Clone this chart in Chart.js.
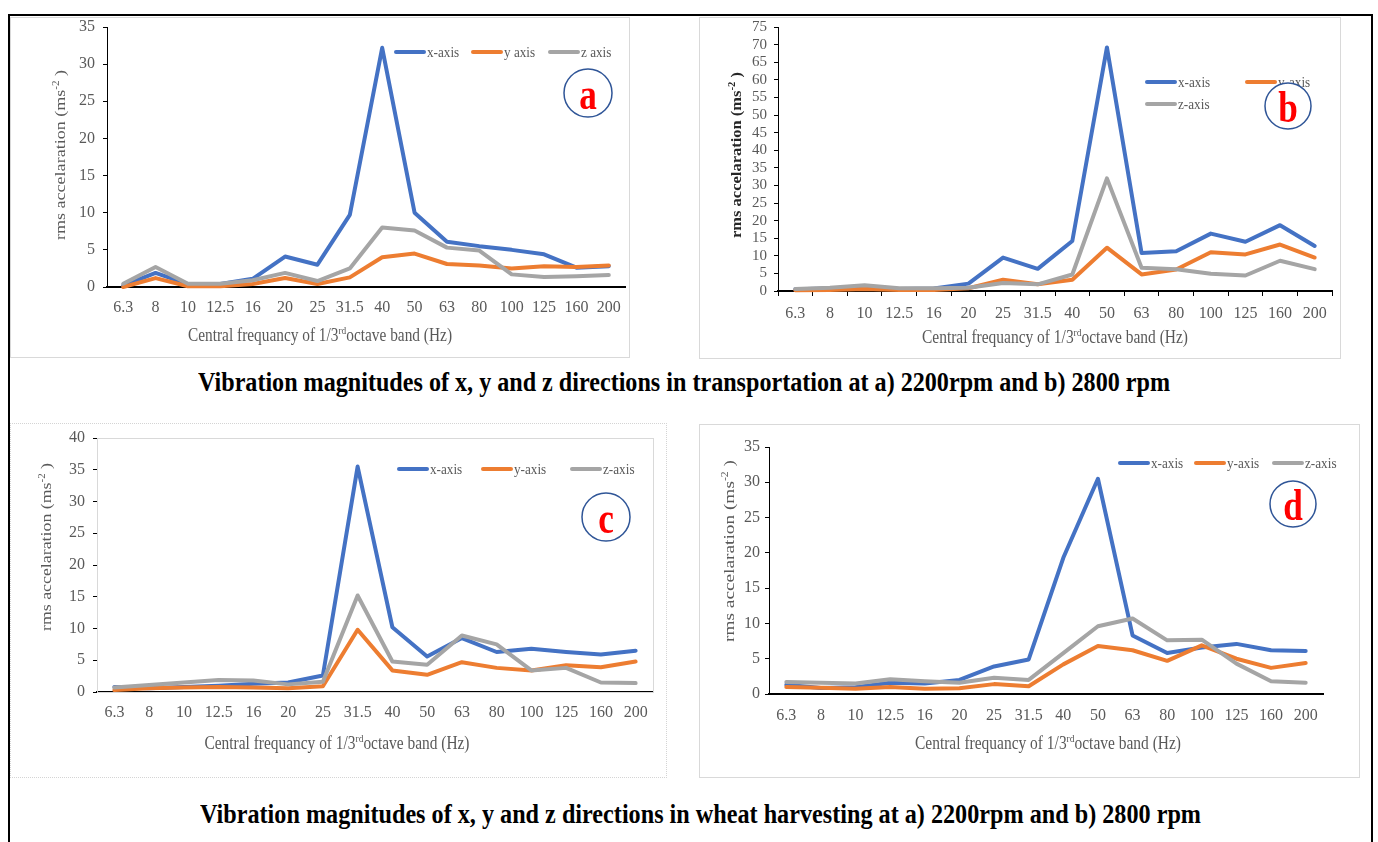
<!DOCTYPE html>
<html>
<head>
<meta charset="utf-8">
<script src="https://cdn.jsdelivr.net/npm/chart.js@4.4.1/dist/chart.umd.min.js"></script>
<style>
html,body{margin:0;padding:0;background:#fff;}
body{width:1378px;height:842px;overflow:hidden;position:relative;}
.frame{position:absolute;left:8px;top:14px;width:1365px;height:860px;border:2px solid #000;box-sizing:border-box;}
.box{position:absolute;box-sizing:border-box;border:1px solid #d9d9d9;}
.wrap{position:absolute;}
.cap{position:absolute;font-family:"Liberation Serif",serif;font-weight:bold;font-size:27px;line-height:1;white-space:nowrap;transform-origin:0 50%;color:#000;}
</style>
</head>
<body>
<div class="frame"></div>
<div class="box" style="left:10px;top:17px;width:620px;height:341px;"></div>
<div class="box" style="left:699px;top:17px;width:642px;height:342px;"></div>
<div class="box" style="left:10px;top:423px;width:657px;height:355px;border-style:dotted;border-color:#d4d4d4;"></div>
<div class="box" style="left:699px;top:424px;width:661px;height:354px;"></div>

<div class="wrap" style="left:10px;top:7px;"><canvas id="cA" width="630" height="350"></canvas></div>
<div class="wrap" style="left:699px;top:7px;"><canvas id="cB" width="642" height="350"></canvas></div>
<div class="wrap" style="left:10px;top:413px;"><canvas id="cC" width="657" height="365"></canvas></div>
<div class="wrap" style="left:699px;top:424px;"><canvas id="cD" width="661" height="354"></canvas></div>

<div class="cap" id="cap1" data-w="972" style="left:198px;top:369px;">Vibration magnitudes of x, y and z directions in transportation at a) 2200rpm and b) 2800 rpm</div>
<div class="cap" id="cap2" data-w="1001" style="left:200px;top:801px;">Vibration magnitudes of x, y and z directions in wheat harvesting at a) 2200rpm and b) 2800 rpm</div>

<script>
// ---------- DATA ----------
const categories = ['6.3','8','10','12.5','16','20','25','31.5','40','50','63','80','100','125','160','200'];

// (a) transportation 2200 rpm
const aX = [0.2, 1.9, 0.4, 0.4, 1.1, 4.1, 3.0, 9.7, 32.2, 10.0, 6.1, 5.5, 5.0, 4.4, 2.6, 2.8];
const aY = [0.0, 1.2, 0.1, 0.1, 0.4, 1.2, 0.4, 1.3, 4.0, 4.5, 3.1, 2.9, 2.5, 2.8, 2.7, 2.9];
const aZ = [0.45, 2.7, 0.45, 0.45, 0.9, 1.9, 0.8, 2.5, 8.0, 7.6, 5.3, 4.9, 1.7, 1.35, 1.45, 1.6];

// (b) transportation 2800 rpm
const bX = [0.5, 0.7, 1.0, 0.6, 0.7, 2.1, 9.5, 6.3, 14.2, 69.2, 10.8, 11.3, 16.3, 14.0, 18.7, 12.8];
const bY = [0.2, 0.3, 0.6, 0.3, 0.3, 0.8, 3.2, 1.9, 3.2, 12.3, 4.7, 6.1, 11.0, 10.4, 13.2, 9.5];
const bZ = [0.6, 0.9, 1.6, 0.8, 0.8, 0.9, 2.3, 1.9, 4.7, 32.0, 6.6, 6.2, 4.9, 4.4, 8.6, 6.2];

// (c) wheat harvesting 2200 rpm
const cX = [0.8, 0.6, 0.8, 1.0, 1.3, 1.5, 2.6, 35.5, 10.2, 5.6, 8.5, 6.3, 6.8, 6.3, 5.9, 6.5];
const cY = [0.3, 0.6, 0.7, 0.8, 0.7, 0.6, 0.9, 9.8, 3.4, 2.7, 4.7, 3.8, 3.4, 4.2, 3.9, 4.8];
const cZ = [0.7, 1.1, 1.5, 1.9, 1.8, 1.2, 1.6, 15.2, 4.8, 4.3, 8.9, 7.5, 3.4, 3.8, 1.5, 1.4];

// (d) wheat harvesting 2800 rpm
const dX = [1.3, 0.85, 0.95, 1.6, 1.5, 2.0, 3.9, 4.9, 19.3, 30.5, 8.3, 5.8, 6.6, 7.1, 6.2, 6.1];
const dY = [1.0, 0.9, 0.75, 1.0, 0.75, 0.8, 1.4, 1.1, 4.2, 6.8, 6.2, 4.7, 6.9, 5.0, 3.7, 4.4];
const dZ = [1.7, 1.6, 1.5, 2.1, 1.8, 1.6, 2.3, 2.0, 5.8, 9.6, 10.7, 7.6, 7.7, 4.3, 1.8, 1.6];

const labelsHyphen = ['x-axis', 'y-axis', 'z-axis'];
const labelsA = ['x-axis', 'y axis', 'z axis'];
const yMaxA = 35, yMaxB = 75, yMaxC = 40, yMaxD = 35;
const yStep = 5;
const panelLetters = ['a', 'b', 'c', 'd'];

const yTitleParts = [['rms accelaration (ms', false], ['-2', true], [' )', false]];
const xTitleParts = [['Central frequancy of 1/3', false], ['rd', true], ['octave band (Hz)', false]];

// ---------- STYLE ----------
const COLORS = ['#4472C4', '#ED7D31', '#A5A5A5'];
const FAMILY = '"Liberation Serif", "Times New Roman", serif';
const GREY = '#595959';

function richWidth(ctx, parts, size, weight) {
  let w = 0;
  for (const [t, sup] of parts) {
    ctx.font = `${weight} ${sup ? Math.round(size * 0.62) : size}px ${FAMILY}`;
    w += ctx.measureText(t).width;
  }
  return w;
}
function drawRich(ctx, parts, o) {
  const weight = o.weight || 'normal';
  const w = richWidth(ctx, parts, o.size, weight);
  ctx.save();
  ctx.translate(o.x, o.y);
  if (o.vertical) ctx.rotate(-Math.PI / 2);
  const along = o.len ? o.len / w : 1;
  ctx.scale(along, o.cross || 1);
  ctx.fillStyle = o.color;
  ctx.textAlign = 'left';
  ctx.textBaseline = 'alphabetic';
  let x = -w / 2;
  const base = o.size * 0.33;
  for (const [t, sup] of parts) {
    const s = sup ? Math.round(o.size * 0.62) : o.size;
    ctx.font = `${weight} ${s}px ${FAMILY}`;
    ctx.fillText(t, x, base + (sup ? -o.size * 0.38 : 0));
    x += ctx.measureText(t).width;
  }
  ctx.restore();
}

const decor = {
  id: 'decor',
  beforeDatasetsDraw(chart, args, o) {
    if (o.frame) {
      const ca = chart.chartArea, ctx = chart.ctx;
      ctx.save();
      ctx.strokeStyle = o.frame;
      ctx.lineWidth = 1;
      ctx.strokeRect(ca.left + 0.5, ca.top + 0.5, ca.right - ca.left, ca.bottom - ca.top);
      ctx.restore();
    }
  },
  afterDraw(chart, args, o) {
    const ctx = chart.ctx;
    if (o.yTitle) drawRich(ctx, yTitleParts, Object.assign({vertical: true, cross: 0.85, color: GREY, size: 18}, o.yTitle));
    if (o.xTitle) drawRich(ctx, xTitleParts, Object.assign({color: GREY, size: 18}, o.xTitle));
    if (o.legend) {
      chart.data.datasets.forEach((ds, i) => {
        const p = o.legend[i];
        ctx.save();
        ctx.strokeStyle = ds.borderColor;
        ctx.lineWidth = 4;
        ctx.lineCap = 'round';
        ctx.beginPath();
        ctx.moveTo(p[0] + 2, p[1]);
        ctx.lineTo(p[0] + 30, p[1]);
        ctx.stroke();
        ctx.translate(p[0] + 33, p[1]);
        ctx.scale(0.88, 1);
        ctx.font = `15px ${FAMILY}`;
        ctx.fillStyle = GREY;
        ctx.textBaseline = 'middle';
        ctx.fillText(ds.label, 0, 1);
        ctx.restore();
      });
    }
    if (o.badge) {
      const b = o.badge;
      ctx.save();
      ctx.beginPath();
      ctx.arc(b.x, b.y, b.r, 0, Math.PI * 2);
      ctx.fillStyle = '#fff';
      ctx.fill();
      ctx.strokeStyle = '#2F5597';
      ctx.lineWidth = 1.5;
      ctx.stroke();
      ctx.translate(b.x, b.y + 16);
      ctx.scale(0.8, 1);
      ctx.font = `bold 44px ${FAMILY}`;
      ctx.fillStyle = '#FF0000';
      ctx.textAlign = 'center';
      ctx.textBaseline = 'alphabetic';
      ctx.fillText(b.letter, 0, 0);
      ctx.restore();
    }
  }
};

function makeChart(id, series, labels, cfg) {
  const orders = [3, 2, 1];
  const datasets = series.map((d, i) => ({
    label: labels[i], data: d, borderColor: COLORS[i], backgroundColor: COLORS[i],
    borderWidth: 4, pointRadius: 0, tension: 0, fill: false, clip: false,
    borderJoinStyle: 'round', borderCapStyle: 'round', order: orders[i]
  }));
  return new Chart(document.getElementById(id), {
    type: 'line',
    data: {labels: categories, datasets},
    options: {
      responsive: false, animation: false, events: [],
      layout: {padding: {left: 0, top: cfg.top, right: cfg.right, bottom: 0}},
      plugins: {
        legend: {display: false}, tooltip: {enabled: false},
        decor: cfg.decor
      },
      scales: {
        x: {
          offset: true,
          grid: cfg.xTicks ? {display: true, offset: true, drawOnChartArea: false, drawTicks: true, tickLength: 5, color: '#000', lineWidth: 1}
                           : {display: false, drawTicks: false, tickLength: 0},
          border: {display: true, color: '#000', width: 2},
          ticks: {autoSkip: false, maxRotation: 0, minRotation: 0, padding: cfg.xPad, color: GREY, font: {family: FAMILY, size: 16}},
          afterFit: s => { s.height = cfg.xH; }
        },
        y: {
          min: 0, max: cfg.yMax,
          grid: {display: true, drawOnChartArea: false, drawTicks: true, tickLength: 4, color: '#000', lineWidth: 1},
          border: {display: true, color: '#000', width: 1},
          ticks: {stepSize: yStep, autoSkip: false, padding: cfg.yPad, color: GREY, font: {family: FAMILY, size: cfg.yFont || 16}},
          afterFit: s => { s.width = cfg.yW; }
        }
      }
    },
    plugins: [decor]
  });
}

makeChart('cA', [aX, aY, aZ], labelsA, {
  top: 20, right: 15, xH: 70, yW: 97, yMax: yMaxA, xPad: 11, yPad: 8,
  decor: {
    yTitle: {x: 50, y: 148, len: 170},
    xTitle: {x: 310, y: 328, len: 264},
    legend: [[384, 45], [461, 45], [538, 45]],
    badge: {x: 578, y: 86, r: 24, letter: panelLetters[0]}
  }
});
makeChart('cB', [bX, bY, bZ], labelsHyphen, {
  top: 20, right: 9, xH: 66, yW: 79, yMax: yMaxB, xPad: 8, yPad: 7, yFont: 15, xTicks: true,
  decor: {
    yTitle: {x: 37, y: 148, len: 166, weight: 'bold', color: '#262626', size: 17},
    xTitle: {x: 356, y: 330, len: 266},
    legend: [[446, 75], [546, 75], [446, 97]],
    badge: {x: 589, y: 99, r: 23, letter: panelLetters[1]}
  }
});
makeChart('cC', [cX, cY, cZ], labelsHyphen, {
  top: 25, right: 14, xH: 86, yW: 87, yMax: yMaxC, xPad: 11, yPad: 8,
  decor: {
    frame: '#d9d9d9',
    yTitle: {x: 36, y: 134, len: 168},
    xTitle: {x: 327, y: 330, len: 265},
    legend: [[387, 56], [471, 56], [560, 56]],
    badge: {x: 596, y: 104, r: 24, letter: panelLetters[2]}
  }
});
makeChart('cD', [dX, dY, dZ], labelsHyphen, {
  top: 23, right: 37, xH: 84, yW: 70, yMax: yMaxD, xPad: 12, yPad: 5,
  decor: {
    yTitle: {x: 30, y: 127, len: 182},
    xTitle: {x: 349, y: 319, len: 266},
    legend: [[419, 39], [495, 39], [573, 39]],
    badge: {x: 594, y: 80, r: 23, letter: panelLetters[3]}
  }
});

// fit captions to measured width
document.querySelectorAll('.cap').forEach(el => {
  const target = +el.dataset.w;
  const w = el.getBoundingClientRect().width;
  el.style.transform = `scaleX(${target / w})`;
});
</script>
</body>
</html>
